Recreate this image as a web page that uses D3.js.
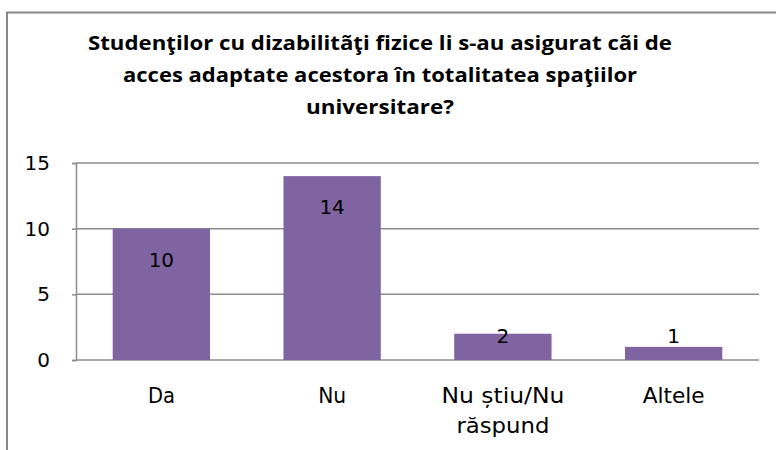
<!DOCTYPE html>
<html>
<head>
<meta charset="utf-8">
<script src="https://cdn.jsdelivr.net/npm/d3@7"></script>
<style>
  html, body { margin: 0; padding: 0; background: #fff; }
  svg { display: block; }
  text { font-family: "DejaVu Sans", "Noto Sans", sans-serif; fill: #000; }
</style>
</head>
<body>
<svg id="chart" width="776" height="450"></svg>
<script>
// Survey answers and counts
const categories = ["Da", "Nu", "Nu știu/Nu răspund", "Altele"];
const counts = [10, 14, 2, 1];
const yTicks = [0, 5, 10, 15];
const titleLines = [
  "Studenţilor cu dizabilitãţi fizice li s-au asigurat cãi de",
  "acces adaptate acestora în totalitatea spaţiilor",
  "universitare?"
];
// wrapped category labels
const categoryLines = [["Da"], ["Nu"], ["Nu știu/Nu", "răspund"], ["Altele"]];

const svg = d3.select("#chart");
const W = 776, H = 450;
const plot = { left: 76, right: 759, top: 163, bottom: 360 };
const barColor = "#8064A2";
const gridColor = "#8C8C8C";

// Chart frame (left and top edges visible)
svg.append("path")
  .attr("d", `M7,${H} L7,12.5 L${W},12.5`)
  .attr("fill", "none")
  .attr("stroke", "#878787")
  .attr("stroke-width", 2);

// Title, fitted to its line widths
const titleWidths = [584, 514, 148];
const title = svg.append("text")
  .attr("text-anchor", "middle")
  .style("font-family", "'Open Sans', 'Noto Sans', sans-serif")
  .style("font-weight", "bold")
  .style("font-size", "20px");
titleLines.forEach((line, i) => {
  title.append("tspan")
    .attr("x", 380)
    .attr("y", 50 + i * 32)
    .attr("textLength", titleWidths[i])
    .attr("lengthAdjust", "spacingAndGlyphs")
    .text(line);
});

const x = d3.scaleBand()
  .domain(categories)
  .range([plot.left, plot.right])
  .paddingInner(0.43)
  .paddingOuter(0.215);

const y = d3.scaleLinear()
  .domain([0, 15])
  .range([plot.bottom, plot.top]);

// Horizontal gridlines
svg.append("g")
  .selectAll("line")
  .data(yTicks)
  .join("line")
  .attr("x1", plot.left)
  .attr("x2", plot.right)
  .attr("y1", d => y(d))
  .attr("y2", d => y(d))
  .attr("stroke", gridColor)
  .attr("stroke-width", 1.5);

// Y axis
const yAxis = d3.axisLeft(y)
  .tickValues(yTicks)
  .tickSize(4)
  .tickPadding(22);
const gy = svg.append("g")
  .attr("transform", `translate(${plot.left},0)`)
  .call(yAxis);
gy.select(".domain").attr("stroke", gridColor).attr("stroke-width", 1.5);
gy.selectAll(".tick line").attr("stroke", gridColor).attr("stroke-width", 1.5);
gy.selectAll(".tick text")
  .style("font-size", "20px")
  .style("font-family", "'DejaVu Sans', sans-serif")
  .attr("fill", "#000");

// Bars
svg.append("g")
  .selectAll("rect")
  .data(counts)
  .join("rect")
  .attr("x", (d, i) => x(categories[i]))
  .attr("width", x.bandwidth())
  .attr("y", d => y(d))
  .attr("height", d => y(0) - y(d))
  .attr("fill", barColor);

// Value labels: inside the bar top, kept clear of the baseline for short bars
svg.append("g")
  .selectAll("text")
  .data(counts)
  .join("text")
  .attr("x", (d, i) => x(categories[i]) + x.bandwidth() / 2)
  .attr("y", d => Math.min(y(d) + 38, y(0) - 17.5))
  .attr("text-anchor", "middle")
  .style("font-size", "20px")
  .text(d => d);

// Category labels
const catWidths = [[27], [28], [123, 93], [62]];
const cats = svg.append("g");
categoryLines.forEach((lines, i) => {
  const t = cats.append("text")
    .attr("text-anchor", "middle")
    .style("font-size", "20.5px");
  lines.forEach((ln, j) => {
    t.append("tspan")
      .attr("x", x(categories[i]) + x.bandwidth() / 2)
      .attr("y", 403 + j * 30)
      .attr("textLength", catWidths[i][j])
      .attr("lengthAdjust", "spacingAndGlyphs")
      .text(ln);
  });
});
</script>
</body>
</html>
